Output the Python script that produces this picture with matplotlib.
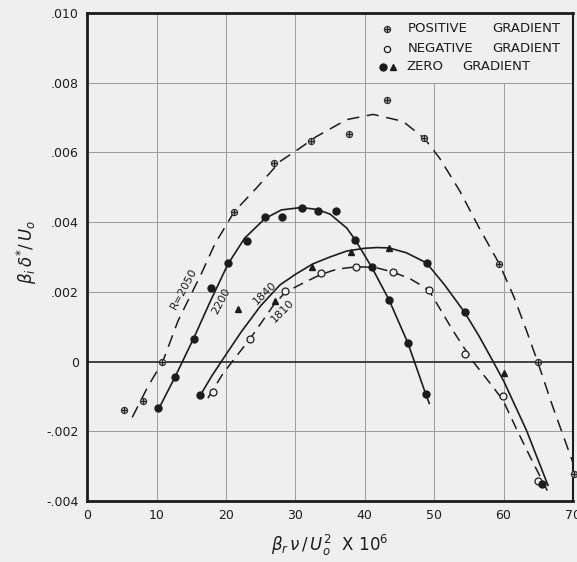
import matplotlib
matplotlib.use('Agg')
import matplotlib.pyplot as plt

OUT_PATH = 'out.png'
BG = '#efefef'
INK = '#1c1c1c'

# measured points (y in units of 1e-3)
pos_x = [5.3, 8.1, 10.8, 21.2, 26.9, 32.2, 37.7, 43.2, 48.6, 59.4, 64.9, 70.1]
pos_y = [-1.4, -1.14, 0.0, 4.3, 5.7, 6.34, 6.54, 7.49, 6.4, 2.8, 0.0, -3.23]

neg_x = [18.1, 23.5, 28.5, 33.7, 38.8, 44.0, 49.2, 54.5, 59.9, 64.9]
neg_y = [-0.88, 0.66, 2.03, 2.54, 2.71, 2.57, 2.06, 0.23, -1.0, -3.43]

zero_dot_x = [10.2, 12.7, 15.4, 17.8, 20.3, 23.0, 25.6, 28.1, 30.9, 33.2, 35.9,
              38.6, 41.0, 43.5, 46.2, 48.8, 16.3, 48.9, 54.4, 65.6]
zero_dot_y = [-1.34, -0.43, 0.66, 2.1, 2.83, 3.46, 4.14, 4.14, 4.4, 4.31, 4.31,
              3.5, 2.71, 1.77, 0.54, -0.94, -0.97, 2.83, 1.41, -3.5]

zero_tri_x = [21.8, 27.1, 32.4, 38.0, 43.5, 60.0]
zero_tri_y = [1.5, 1.74, 2.71, 3.15, 3.26, -0.34]

# faired curves
c2050_x = [6.5, 8.8, 10.9, 13.1, 16.5, 18.4, 21.2, 24.5, 27.8, 30.5, 33.0, 37.4,
           41.2, 45.5, 48.6, 50.8, 53.7, 56.5, 59.4, 61.5, 63.3, 64.9, 67.1, 70.0]
c2050_y = [-1.6, -0.7, 0.0, 1.17, 2.54, 3.37, 4.3, 5.0, 5.74, 6.1, 6.45, 6.94,
           7.09, 6.89, 6.4, 5.83, 4.89, 3.83, 2.8, 1.85, 0.89, 0.0, -1.3, -2.9]

c2200_x = [10.2, 12.7, 15.4, 17.8, 20.3, 22.7, 25.6, 28.0, 30.9, 33.2, 35.0,
           37.4, 38.6, 41.0, 43.5, 46.2, 48.8, 49.3]
c2200_y = [-1.4, -0.43, 0.69, 1.75, 2.8, 3.54, 4.1, 4.35, 4.42, 4.36, 4.23,
           3.83, 3.5, 2.71, 1.77, 0.54, -0.94, -1.2]

c1840_x = [16.3, 18.0, 19.9, 22.2, 25.0, 27.8, 30.0, 32.5, 35.0, 37.4, 40.0,
           41.7, 43.5, 46.0, 48.9, 51.5, 54.4, 56.5, 58.5, 60.0, 63.3, 66.4]
c1840_y = [-0.97, -0.4, 0.17, 0.85, 1.6, 2.2, 2.5, 2.8, 3.0, 3.17, 3.25,
           3.27, 3.26, 3.12, 2.83, 2.2, 1.41, 0.72, 0.0, -0.55, -1.97, -3.55]

c1810_x = [17.4, 19.4, 20.9, 23.5, 26.8, 28.5, 30.9, 33.7, 36.0, 38.8, 41.5,
           44.0, 46.5, 49.2, 52.7, 55.6, 57.5, 59.9, 61.9, 64.0, 66.3]
c1810_y = [-1.05, -0.4, 0.0, 0.66, 1.6, 1.98, 2.23, 2.5, 2.65, 2.72, 2.7,
           2.57, 2.38, 2.06, 0.89, 0.0, -0.48, -1.1, -1.95, -2.8, -3.7]

x_ticks = [0, 10, 20, 30, 40, 50, 60, 70]
y_ticks = [-4, -2, 0, 2, 4, 6, 8, 10]
y_tick_labels = ['-.004', '-.002', '0', '.002', '.004', '.006', '.008', '.010']

curve_labels = ['R=2050', '2200', '1840', '1810']
label_x = [14.0, 19.3, 25.6, 28.2]
label_y = [2.1, 1.74, 1.97, 1.46]
label_rot = [62, 62, 44, 45]

legend_first = ['POSITIVE', 'NEGATIVE', 'ZERO']
legend_first_x = [46.2, 46.2, 46.0]
legend_second_x = [58.4, 58.4, 54.0]


def sc(vals):
    return [v * 1e-3 for v in vals]


def plot_chart():
    fig = plt.figure(figsize=(5.77, 5.62), dpi=100, facecolor=BG)
    ax = fig.add_axes([0.151, 0.1085, 0.842, 0.8685])
    ax.set_facecolor(BG)
    ax.set_xlim(0, 70)
    ax.set_ylim(-0.004, 0.010)

    # grid, with the legend corner (x>40, y>.008) left clear
    grid_c = '#9c9c9c'
    for x in x_ticks[1:-1]:
        top = 0.010 if x <= 40 else 0.008
        ax.plot([x, x], [-0.004, top], color=grid_c, lw=0.7, zorder=1)
    for y in sc(y_ticks[1:-1]):
        if y == 0:
            ax.axhline(0, color='#333333', lw=1.3, zorder=1)
        else:
            ax.axhline(y, color=grid_c, lw=0.7, zorder=1)

    dash_long = (0, (8, 5))
    dash_med = (0, (7, 4.5))
    ax.plot(c2050_x, sc(c2050_y), color=INK, lw=1.1, ls=dash_long, zorder=2)
    ax.plot(c2200_x, sc(c2200_y), color=INK, lw=1.2, zorder=2)
    ax.plot(c1840_x, sc(c1840_y), color=INK, lw=1.2, zorder=2)
    ax.plot(c1810_x, sc(c1810_y), color=INK, lw=1.1, ls=dash_med, zorder=2)

    ax.plot(pos_x, sc(pos_y), 'o', ms=4.5, mfc='#9a9a9a', mec='#333333', mew=0.8,
            zorder=3, clip_on=False)
    ax.plot(pos_x, sc(pos_y), '+', ms=4.5, mec='#222222', mew=0.7, zorder=4,
            clip_on=False)
    ax.plot(neg_x, sc(neg_y), 'o', ms=5, mfc=BG, mec=INK, mew=0.9, zorder=3)
    ax.plot(zero_dot_x, sc(zero_dot_y), 'o', ms=5, mfc=INK, mec=INK, zorder=3)
    ax.plot(zero_tri_x, sc(zero_tri_y), '^', ms=4.5, mfc=INK, mec=INK, zorder=3)

    for txt, x, y, r in zip(curve_labels, label_x, label_y, label_rot):
        ax.text(x, y * 1e-3, txt, rotation=r, ha='center', va='center',
                fontsize=8, color=INK, zorder=5)

    # legend drawn in the clear corner
    leg_y = [0.00954, 0.00897, 0.00846]
    ax.plot([43.2], [leg_y[0]], 'o', ms=4.5, mfc='#9a9a9a', mec='#333333', mew=0.8)
    ax.plot([43.2], [leg_y[0]], '+', ms=4.5, mec='#222222', mew=0.7)
    ax.plot([43.2], [leg_y[1]], 'o', ms=4.5, mfc=BG, mec=INK, mew=0.9)
    ax.plot([42.6], [leg_y[2]], 'o', ms=5, mfc=INK, mec=INK)
    ax.plot([44.0], [leg_y[2]], '^', ms=4.5, mfc=INK, mec=INK)
    for w, x1, x2, y in zip(legend_first, legend_first_x, legend_second_x, leg_y):
        ax.text(x1, y, w, ha='left', va='center', fontsize=9.5, color=INK)
        ax.text(x2, y, 'GRADIENT', ha='left', va='center', fontsize=9.5,
                color=INK)

    ax.set_xticks(x_ticks)
    ax.set_yticks(sc(y_ticks))
    ax.set_yticklabels(y_tick_labels)
    ax.tick_params(length=0, labelsize=9, colors=INK, pad=6)
    for side in ['left', 'bottom', 'top']:
        ax.spines[side].set_linewidth(2.0)
        ax.spines[side].set_color(INK)
    ax.spines['right'].set_linewidth(1.5)
    ax.spines['right'].set_color(INK)

    fig.text(0.047, 0.552, r'$\beta_i\,\delta^{*}/\,U_o$', rotation=90,
             ha='center', va='center', fontsize=12, color=INK)
    fig.text(0.572, 0.03, r'$\beta_r\,\nu\,/\,U_o^2$  X 10$^6$',
             ha='center', va='center', fontsize=12, color=INK)

    fig.savefig(OUT_PATH, dpi=100, facecolor=BG)


if __name__ == '__main__':
    plot_chart()
